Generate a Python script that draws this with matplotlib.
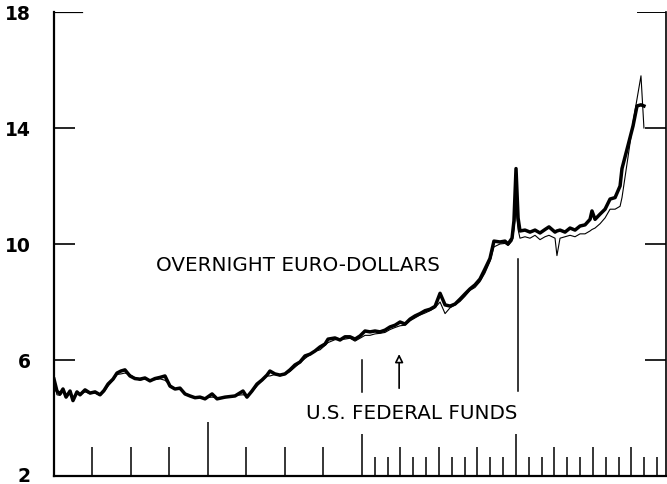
import matplotlib
matplotlib.use("Agg")
import matplotlib.pyplot as plt
import matplotlib.transforms as mtransforms

# months since start of chart (x axis)
months = [0.0, 0.23, 0.47, 0.70, 0.94, 1.25, 1.48, 1.79, 2.03, 2.42,
          2.81, 3.20, 3.59, 3.90, 4.21, 4.60, 4.91, 5.22, 5.53, 5.92,
          6.31, 6.70, 7.09, 7.48, 7.87, 8.26, 8.65, 9.04, 9.43, 9.82,
          10.21, 10.60, 10.99, 11.38, 11.77, 12.32, 12.71, 13.33, 14.11, 14.73,
          15.04, 15.43, 15.82, 16.21, 16.60, 16.83, 17.22, 17.61, 18.00, 18.39,
          18.78, 19.17, 19.56, 19.95, 20.34, 20.73, 21.12, 21.36, 21.90, 22.29,
          22.68, 23.07, 23.46, 23.85, 24.24, 24.63, 25.02, 25.41, 25.80, 26.19,
          26.58, 26.97, 27.36, 27.75, 28.14, 28.53, 28.92, 29.31, 29.70, 30.09,
          30.48, 30.87, 31.26, 31.65, 32.04, 32.42, 32.81, 33.20, 33.59, 33.98,
          34.29, 34.76, 35.15, 35.39, 35.70, 35.85, 36.01, 36.17, 36.32, 36.71,
          37.10, 37.49, 37.88, 38.27, 38.58, 39.05, 39.20, 39.44, 39.83, 40.22,
          40.61, 41.00, 41.39, 41.78, 41.93, 42.17, 42.56, 42.95, 43.34, 43.73,
          44.12, 44.27, 44.74, 45.13, 45.44, 45.75, 45.98]

euro_dollars = [5.34, 4.93, 4.83, 5.0, 4.72, 4.93, 4.6, 4.9, 4.8, 4.97,
                4.86, 4.9, 4.8, 4.95, 5.17, 5.34, 5.55, 5.62, 5.66, 5.45,
                5.36, 5.34, 5.38, 5.28, 5.36, 5.4, 5.45, 5.1, 5.0, 5.03,
                4.83, 4.76, 4.7, 4.72, 4.66, 4.83, 4.66, 4.72, 4.76, 4.93,
                4.72, 4.93, 5.17, 5.31, 5.48, 5.62, 5.52, 5.48, 5.52, 5.66,
                5.83, 5.93, 6.14, 6.2, 6.31, 6.45, 6.55, 6.72, 6.76, 6.69,
                6.8, 6.8, 6.72, 6.83, 7.0, 6.97, 7.0, 6.97, 7.03, 7.14,
                7.2, 7.31, 7.24, 7.41, 7.52, 7.6, 7.7, 7.75, 7.85, 8.3,
                7.9, 7.86, 7.93, 8.1, 8.28, 8.45, 8.59, 8.79, 9.14, 9.5,
                10.1, 10.07, 10.1, 10.0, 10.2, 10.8, 12.6, 10.9, 10.45, 10.48,
                10.41, 10.48, 10.38, 10.5, 10.59, 10.41, 10.45, 10.48, 10.41, 10.55,
                10.48, 10.62, 10.66, 10.85, 11.14, 10.85, 11.03, 11.2, 11.55, 11.6,
                12.0, 12.6, 13.4, 14.07, 14.76, 14.8, 14.76]

fed_funds = [5.3, 4.8, 4.78, 4.95, 4.75, 4.85, 4.65, 4.85, 4.82, 4.9,
             4.84, 4.86, 4.78, 4.9, 5.1, 5.3, 5.5, 5.52, 5.55, 5.5,
             5.38, 5.3, 5.35, 5.3, 5.32, 5.35, 5.3, 5.15, 5.0, 4.98,
             4.85, 4.74, 4.72, 4.7, 4.7, 4.72, 4.7, 4.7, 4.78, 4.8,
             4.78, 4.9, 5.1, 5.28, 5.45, 5.45, 5.5, 5.45, 5.5, 5.6,
             5.75, 5.9, 6.05, 6.18, 6.3, 6.35, 6.5, 6.6, 6.7, 6.72,
             6.72, 6.75, 6.65, 6.75, 6.85, 6.85, 6.9, 6.92, 6.95, 7.05,
             7.12, 7.18, 7.2, 7.35, 7.45, 7.55, 7.62, 7.7, 7.8, 8.0,
             7.6, 7.8, 7.9, 8.02, 8.2, 8.4, 8.5, 8.7, 9.0, 9.4,
             9.9, 10.0, 10.02, 9.95, 10.1, 10.5, 11.2, 10.5, 10.2, 10.25,
             10.2, 10.3, 10.15, 10.25, 10.3, 10.2, 9.6, 10.2, 10.25, 10.3,
             10.25, 10.35, 10.35, 10.45, 10.5, 10.55, 10.7, 10.9, 11.2, 11.2,
             11.3, 11.6, 13.0, 14.2, 15.0, 15.8, 14.0]

y_ticks = [2, 6, 10, 14, 18]
quarter_ticks = [3, 6, 9, 15, 18, 21, 27, 30, 33, 39, 42, 45]
month_ticks = [25, 26, 28, 29, 31, 32, 34, 35, 37, 38, 40, 41, 43, 44, 46, 47]
year_ticks = [12, 24, 36]
year_tick_len = [54, 42, 42]   # pixels

fig = plt.figure(figsize=(6.67, 4.85), dpi=100)
ax = fig.add_axes([54 / 667, 8 / 485, 612 / 667, 464 / 485])

ax.plot(months, fed_funds, color="black", lw=0.8)
ax.plot(months, euro_dollars, color="black", lw=2.5, solid_joinstyle="round")

ax.set_xlim(0, 47.7)
ax.set_ylim(2, 18)

for s in ["left", "bottom"]:
    ax.spines[s].set_linewidth(1.6)
ax.spines["right"].set_linewidth(1.2)
ax.spines["top"].set_visible(False)
ax.axhline(18, xmin=0, xmax=0.045, color="black", lw=1.6)
ax.axhline(18, xmin=0.955, xmax=1, color="black", lw=1.4)

ax.set_yticks(y_ticks)
ax.set_yticklabels([str(v) for v in y_ticks], fontsize=13.5, fontweight="bold")
ax.tick_params(axis="y", direction="in", length=15, width=1.2, pad=17, right=True)
for t in ax.yaxis.get_major_ticks():
    if t.get_loc() in (2, 18):
        t.tick1line.set_visible(False)
        t.tick2line.set_visible(False)
    if t.get_loc() == 2:
        # nudge the bottom label up so it stays inside the picture
        t.label1.set_transform(t.label1.get_transform() +
                               mtransforms.ScaledTranslation(0, 2 / 72, fig.dpi_scale_trans))

ax.set_xticks(quarter_ticks)
ax.set_xticks(month_ticks, minor=True)
ax.set_xticklabels([])
ax.tick_params(axis="x", which="major", direction="in", length=21, width=1.1)
ax.tick_params(axis="x", which="minor", direction="in", length=14, width=1.1)
ax.vlines(year_ticks, 0, [h / 464 for h in year_tick_len], transform=ax.get_xaxis_transform(),
          color="black", lw=1.1)

ax.text(19.0, 9.28, "OVERNIGHT EURO-DOLLARS", fontsize=14.3, ha="center", va="center")
ax.text(27.9, 4.2, "U.S. FEDERAL FUNDS", fontsize=14.3, ha="center", va="center")

ax.plot([24.0, 24.0], [4.9, 6.0], color="black", lw=1.1)
ax.plot([36.2, 36.2], [4.93, 9.48], color="black", lw=1.1)
ax.annotate("", xy=(26.9, 6.3), xytext=(26.9, 4.93),
            arrowprops=dict(arrowstyle="-|>", color="black", lw=1.2, fc="white",
                            mutation_scale=12))

fig.savefig("out.png", dpi=100)
